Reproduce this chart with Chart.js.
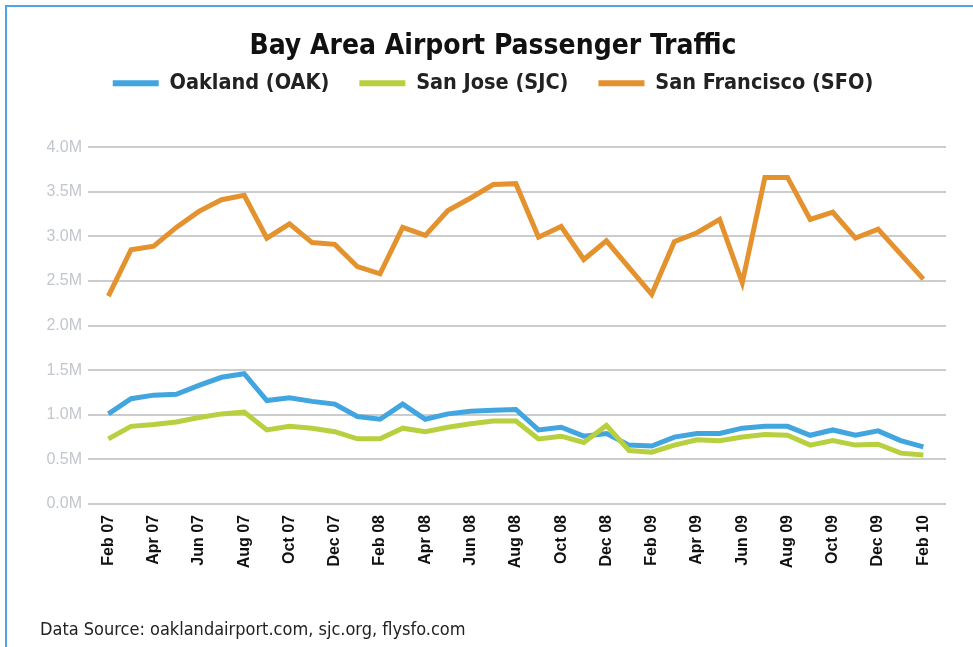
<!DOCTYPE html>
<html>
<head>
<meta charset="utf-8">
<script src="https://cdn.jsdelivr.net/npm/chart.js@4.4.1/dist/chart.umd.min.js"></script>
<style>
  html, body { margin: 0; padding: 0; background: #fff; overflow: hidden; }
  #frame { position: absolute; left: 5px; top: 5px; width: 966px; height: 642px;
           border-left: 2px solid #4ea4e6; border-top: 2px solid #4ea4e6; }
  #chart { position: absolute; left: 0; top: 0; }
</style>
</head>
<body>
<div id="frame"></div>
<canvas id="chart" width="973" height="647"></canvas>
<script>
// monthly passengers, in millions
const months = [
    "Feb 07", "Mar 07", "Apr 07", "May 07", "Jun 07", "Jul 07", "Aug 07", "Sep 07", "Oct 07", "Nov 07", "Dec 07", "Jan 08",
    "Feb 08", "Mar 08", "Apr 08", "May 08", "Jun 08", "Jul 08", "Aug 08", "Sep 08", "Oct 08", "Nov 08", "Dec 08", "Jan 09",
    "Feb 09", "Mar 09", "Apr 09", "May 09", "Jun 09", "Jul 09", "Aug 09", "Sep 09", "Oct 09", "Nov 09", "Dec 09", "Jan 10",
    "Feb 10"
];

const oak = [
    1.01, 1.18, 1.22, 1.23, 1.33, 1.42, 1.46, 1.16, 1.19, 1.15, 1.12, 0.98,
    0.95, 1.12, 0.95, 1.01, 1.04, 1.05, 1.06, 0.83, 0.86, 0.76, 0.79, 0.66,
    0.65, 0.75, 0.79, 0.79, 0.85, 0.87, 0.87, 0.77, 0.83, 0.77, 0.82, 0.71,
    0.64
];

const sjc = [
    0.73, 0.87, 0.89, 0.92, 0.97, 1.01, 1.03, 0.83, 0.87, 0.85, 0.81, 0.73,
    0.73, 0.85, 0.81, 0.86, 0.90, 0.93, 0.93, 0.73, 0.76, 0.69, 0.88, 0.60,
    0.58, 0.66, 0.72, 0.71, 0.75, 0.78, 0.77, 0.66, 0.71, 0.66, 0.67, 0.57,
    0.55
];

const sfo = [
    2.33, 2.85, 2.89, 3.10, 3.28, 3.41, 3.46, 2.98, 3.14, 2.93, 2.91, 2.66,
    2.58, 3.10, 3.01, 3.29, 3.43, 3.58, 3.59, 2.99, 3.11, 2.74, 2.95, 2.65,
    2.35, 2.94, 3.04, 3.19, 2.48, 3.66, 3.66, 3.19, 3.27, 2.98, 3.08, 2.80,
    2.52
];

const seriesNames = ["Oakland (OAK)", "San Jose (SJC)", "San Francisco (SFO)"];
const seriesColors = ["#41a5df", "#b6d03f", "#e4922e"];

const narrow = "'Liberation Sans Narrow', 'DejaVu Sans Condensed', sans-serif";
const toPoints = arr => arr.map((v, i) => ({ x: i, y: v }));

function makeSet(idx, values, order) {
    return {
        label: seriesNames[idx],
        data: toPoints(values),
        borderColor: seriesColors[idx],
        backgroundColor: seriesColors[idx],
        borderWidth: 5,
        pointRadius: 0,
        tension: 0,
        fill: false,
        order: order
    };
}

new Chart(document.getElementById("chart").getContext("2d"), {
    type: "line",
    data: {
        datasets: [makeSet(0, oak, 3), makeSet(1, sjc, 2), makeSet(2, sfo, 1)]
    },
    options: {
        responsive: false,
        animation: false,
        layout: { padding: { left: 40, right: 27, top: 0, bottom: 0 } },
        plugins: {
            tooltip: { enabled: false },
            title: {
                display: true,
                text: "Bay Area Airport Passenger Traffic",
                color: "#111",
                font: { family: narrow, size: 28, weight: "bold", lineHeight: 1.2 },
                padding: { top: 30, bottom: -21 }
            },
            legend: {
                display: true,
                labels: {
                    color: "#222",
                    font: { family: narrow, size: 21.5, weight: "bold" },
                    boxWidth: 46,
                    boxHeight: 6,
                    padding: 30,
                    sort: (a, b) => a.datasetIndex - b.datasetIndex,
                    // plain filled line swatch, no stroke round it
                    generateLabels: chart => Chart.defaults.plugins.legend.labels.generateLabels(chart)
                        .map(item => Object.assign(item, { lineWidth: 0 }))
                }
            },
            subtitle: {
                display: true,
                position: "bottom",
                align: "start",
                text: "Data Source: oaklandairport.com, sjc.org, flysfo.com",
                color: "#222",
                font: { family: narrow, size: 18, lineHeight: 1.2 },
                padding: { top: 8, bottom: 6 }
            }
        },
        scales: {
            x: {
                type: "linear",
                min: -0.9,
                max: 37,
                grid: { display: false, drawTicks: false },
                border: { display: false },
                afterBuildTicks: scale => {
                    scale.ticks = months.map((m, i) => ({ value: i })).filter(t => t.value % 2 === 0);
                },
                afterFit: scale => { scale.height = 107.4; },
                ticks: {
                    autoSkip: false,
                    minRotation: 90,
                    maxRotation: 90,
                    padding: 11,
                    color: "#111",
                    font: { family: "'Liberation Sans', Arial, sans-serif", size: 16, weight: "bold" },
                    callback: v => months[v]
                }
            },
            spacer: {
                type: "linear",
                position: "top",
                display: true,
                grid: { display: false, drawTicks: false },
                border: { display: false },
                ticks: { display: false },
                afterFit: scale => { scale.height = 43; }
            },
            y: {
                min: 0,
                max: 4,
                afterFit: scale => { scale.width = 48; },
                grid: { color: "#cccccc", lineWidth: 2, drawTicks: false },
                border: { display: false },
                ticks: {
                    stepSize: 0.5,
                    padding: 6,
                    color: "#c2c6cd",
                    font: { family: "'Liberation Sans', Arial, sans-serif", size: 16 },
                    callback: v => v.toFixed(1) + "M"
                }
            }
        }
    }
});
</script>
</body>
</html>
